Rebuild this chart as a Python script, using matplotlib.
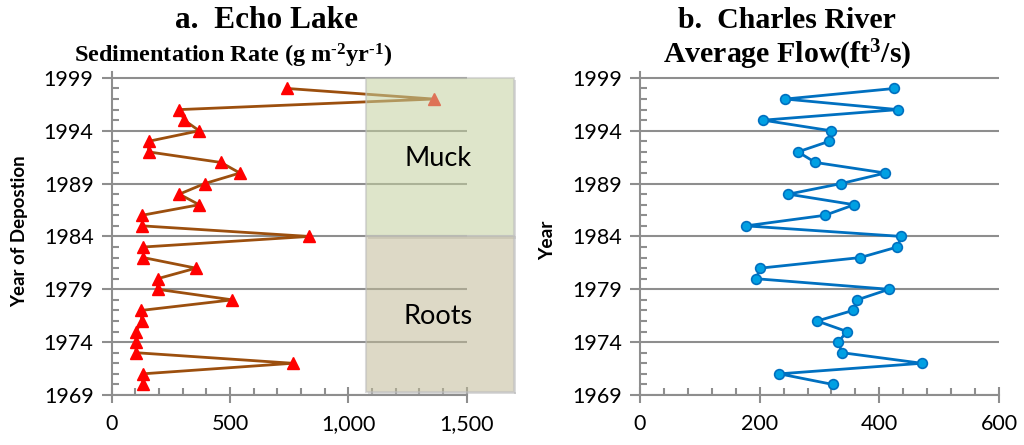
import matplotlib
matplotlib.use("Agg")
import matplotlib.pyplot as plt
from matplotlib.patches import Rectangle
from matplotlib.ticker import MultipleLocator, FuncFormatter

# data
years = [1998, 1997, 1996, 1995, 1994, 1993, 1992, 1991, 1990, 1989, 1988, 1987,
         1986, 1985, 1984, 1983, 1982, 1981, 1980, 1979, 1978, 1977, 1976, 1975,
         1974, 1973, 1972, 1971, 1970]
sed_rate = [742, 1360, 286, 307, 370, 156, 156, 462, 542, 393, 286, 370,
            128, 130, 834, 134, 134, 356, 194, 194, 510, 125, 127, 103,
            103, 103, 765, 131, 131]
flow_years = years[:]
flow = [425, 243, 431, 206, 319, 316, 264, 293, 410, 336, 248, 358,
        309, 177, 437, 430, 368, 201, 194, 416, 363, 356, 296, 346,
        331, 338, 471, 233, 322]

zones = ["Muck", "Roots"]
zone_years = [(1984, 1999), (1969.3, 1984)]
zone_label_y = [1991.4, 1976.4]
zone_x = (1075, 1700)
zone_colors = ["#C4D1A0", "#C1BB98"]

plt.rcParams['mathtext.fontset'] = 'custom'
plt.rcParams['mathtext.rm'] = 'Liberation Serif:bold'
plt.rcParams['mathtext.it'] = 'Liberation Serif:bold'
plt.rcParams['mathtext.bf'] = 'Liberation Serif:bold'

fig = plt.figure(figsize=(10.24, 4.45), dpi=100)
ax1 = fig.add_axes([0.109, 0.1124, 0.3467, 0.7268])
ax2 = fig.add_axes([0.625, 0.1124, 0.3506, 0.7268])

tick_font = dict(family="Lato", size=15.5)
grey = "#8E8E8E"
title_font = dict(family="Liberation Serif", fontweight="bold")


def style_axis(ax, xmax, xmajor, xminor):
    ax.set_ylim(1969, 1999.6)
    ax.set_xlim(0, xmax)
    ax.yaxis.set_minor_locator(MultipleLocator(1))
    ax.xaxis.set_major_locator(MultipleLocator(xmajor))
    ax.xaxis.set_minor_locator(MultipleLocator(xminor))
    ax.set_yticks([1969, 1974, 1979, 1984, 1989, 1994, 1999])
    ax.grid(axis="y", which="major", color=grey, linewidth=1.5, zorder=0)
    for s in ["top", "right"]:
        ax.spines[s].set_visible(False)
    for s in ["left", "bottom"]:
        ax.spines[s].set_color(grey)
        ax.spines[s].set_linewidth(1.5)
    ax.tick_params(axis="y", which="major", direction="out", length=7,
                   width=1.5, color=grey, pad=6)
    ax.tick_params(axis="y", which="minor", direction="in", length=5,
                   width=1.5, color=grey)
    ax.tick_params(axis="x", which="major", direction="inout", length=12,
                   width=1.5, color=grey, pad=8)
    ax.tick_params(axis="x", which="minor", direction="in", length=5,
                   width=1.5, color=grey)
    for lab in ax.get_xticklabels() + ax.get_yticklabels():
        lab.set_fontfamily(tick_font["family"])
        lab.set_fontsize(tick_font["size"])
    ax.xaxis.set_major_formatter(FuncFormatter(lambda v, p: f"{int(v):,}"))


# a. Echo Lake
ax1.plot(sed_rate, years, color="#9C4F0E", linewidth=2, marker="^",
         markersize=8, markerfacecolor="red", markeredgecolor="red", zorder=3)
style_axis(ax1, 1500, 500, 100)

bw = zone_x[1] - zone_x[0]
for name, (y0, y1), ly, c in zip(zones, zone_years, zone_label_y, zone_colors):
    # thin drop shadow on right and bottom
    ax1.add_patch(Rectangle((zone_x[1], y0 - 0.2), 9, y1 - y0,
                            transform=ax1.transData, clip_on=False,
                            facecolor="#BBBBBB", alpha=0.5, edgecolor="none", zorder=4))
    ax1.add_patch(Rectangle((zone_x[0] + 9, y0 - 0.2), bw, 0.2,
                            transform=ax1.transData, clip_on=False,
                            facecolor="#BBBBBB", alpha=0.5, edgecolor="none", zorder=4))
    ax1.add_patch(Rectangle((zone_x[0], y0), bw, y1 - y0,
                            transform=ax1.transData, clip_on=False,
                            facecolor=c, alpha=0.55, edgecolor="#BDBDBD",
                            linewidth=1.5, zorder=5))
    ax1.text(1380, ly, name, ha="center", va="center",
             family="Lato", fontsize=19.5, zorder=6, clip_on=False)

fig.text(0.019, 0.481, "Year of Depostion", rotation=90, ha="center",
         va="center", family="Lato", fontweight="bold", fontsize=13.4)

fig.text(0.2607, 1 - 28 / 445, "a.  Echo Lake", ha="center", va="baseline",
         fontsize=22.5, **title_font)
fig.text(0.2275, 1 - 63 / 445, r"Sedimentation Rate (g m$^{\text{-2}}$yr$^{\text{-1}}$)",
         ha="center", va="baseline", fontsize=17.5, **title_font)

# b. Charles River
ax2.plot(flow, flow_years, color="#0070C0", linewidth=2, marker="o",
         markersize=7, markerfacecolor="#00A0E3", markeredgecolor="#0070C0",
         markeredgewidth=1.2, zorder=3)
style_axis(ax2, 600, 200, 40)

fig.text(0.535, 0.46, "Year", rotation=90, ha="center", va="center",
         family="Lato", fontweight="bold", fontsize=13.8)

fig.text(0.7686, 1 - 28 / 445, "b.  Charles River", ha="center", va="baseline",
         fontsize=21.5, **title_font)
fig.text(0.7686, 1 - 63 / 445, r"Average Flow(ft$^{\text{3}}$/s)", ha="center",
         va="baseline", fontsize=21.5, **title_font)

fig.savefig("out.png", dpi=100)
